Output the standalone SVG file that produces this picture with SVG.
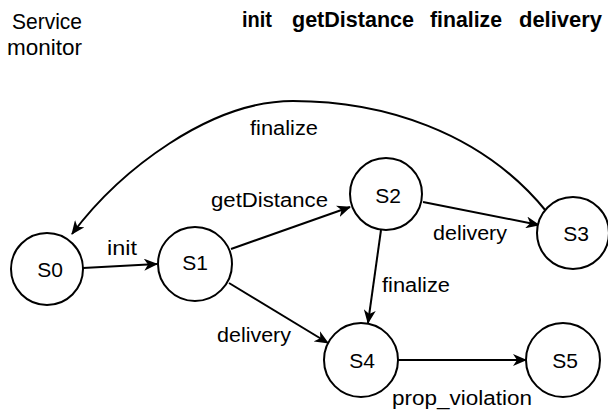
<svg xmlns="http://www.w3.org/2000/svg" width="608" height="411" viewBox="0 0 608 411">
<defs>
<marker id="arr" markerUnits="userSpaceOnUse" markerWidth="16" markerHeight="12" refX="13" refY="6" orient="auto">
<path d="M0,0 L14,6 L0,12 L4,6 Z" fill="#000"/>
</marker>
<style>
.node circle{fill:#fff;stroke:#000;stroke-width:2}
.node text{font-family:"Liberation Sans",Arial,sans-serif;font-size:21px;fill:#000;text-anchor:middle;dominant-baseline:central}
.lbl{font-family:"Liberation Sans",Arial,sans-serif;font-size:20px;fill:#000}
.hdr{font-family:"Liberation Sans",Arial,sans-serif;font-size:22px;fill:#000}
.hb{font-weight:bold;font-size:22px}
#edges path{fill:none;stroke:#000;stroke-width:2;marker-end:url(#arr)}
</style>
</defs>
<rect width="608" height="411" fill="#fff"/>
<g id="header">
<text class="hdr" x="12" y="29" textLength="70" lengthAdjust="spacingAndGlyphs">Service</text>
<text class="hdr" x="7" y="55" textLength="75" lengthAdjust="spacingAndGlyphs">monitor</text>
<text class="hdr hb" x="242" y="27" textLength="30" lengthAdjust="spacingAndGlyphs">init</text>
<text class="hdr hb" x="292" y="27" textLength="122" lengthAdjust="spacingAndGlyphs">getDistance</text>
<text class="hdr hb" x="430" y="27" textLength="72" lengthAdjust="spacingAndGlyphs">finalize</text>
<text class="hdr hb" x="519" y="27" textLength="83" lengthAdjust="spacingAndGlyphs">delivery</text>
</g>
<g id="edges">
<path d="M83,268 L157,264"/>
<path d="M231,249 L350,207"/>
<path d="M423,202 L539,225"/>
<path d="M381,230 L368,323"/>
<path d="M229,283 L328,343"/>
<path d="M398,360 L526,360"/>
<path d="M546,211 C480,130 380,101 293,101 C210,101 120,170 72,234"/>
<text class="lbl" x="107" y="255" textLength="30" lengthAdjust="spacingAndGlyphs">init</text>
<text class="lbl" x="211" y="207" textLength="117" lengthAdjust="spacingAndGlyphs">getDistance</text>
<text class="lbl" x="250" y="135" textLength="68" lengthAdjust="spacingAndGlyphs">finalize</text>
<text class="lbl" x="433" y="240" textLength="74" lengthAdjust="spacingAndGlyphs">delivery</text>
<text class="lbl" x="382" y="292" textLength="68" lengthAdjust="spacingAndGlyphs">finalize</text>
<text class="lbl" x="217" y="342" textLength="74" lengthAdjust="spacingAndGlyphs">delivery</text>
<text class="lbl" x="392" y="405" textLength="140" lengthAdjust="spacingAndGlyphs">prop_violation</text>
</g>
<g id="S0" class="node"><circle cx="47" cy="269" r="36"/><text x="50" y="269">S0</text></g>
<g id="S1" class="node"><circle cx="195" cy="264" r="37"/><text x="195" y="262">S1</text></g>
<g id="S2" class="node"><circle cx="386" cy="194" r="36"/><text x="388" y="195">S2</text></g>
<g id="S3" class="node"><circle cx="573" cy="233" r="36"/><text x="576" y="233">S3</text></g>
<g id="S4" class="node"><circle cx="361" cy="360" r="37"/><text x="362" y="360">S4</text></g>
<g id="S5" class="node"><circle cx="563" cy="360" r="37"/><text x="565" y="360">S5</text></g>
</svg>
